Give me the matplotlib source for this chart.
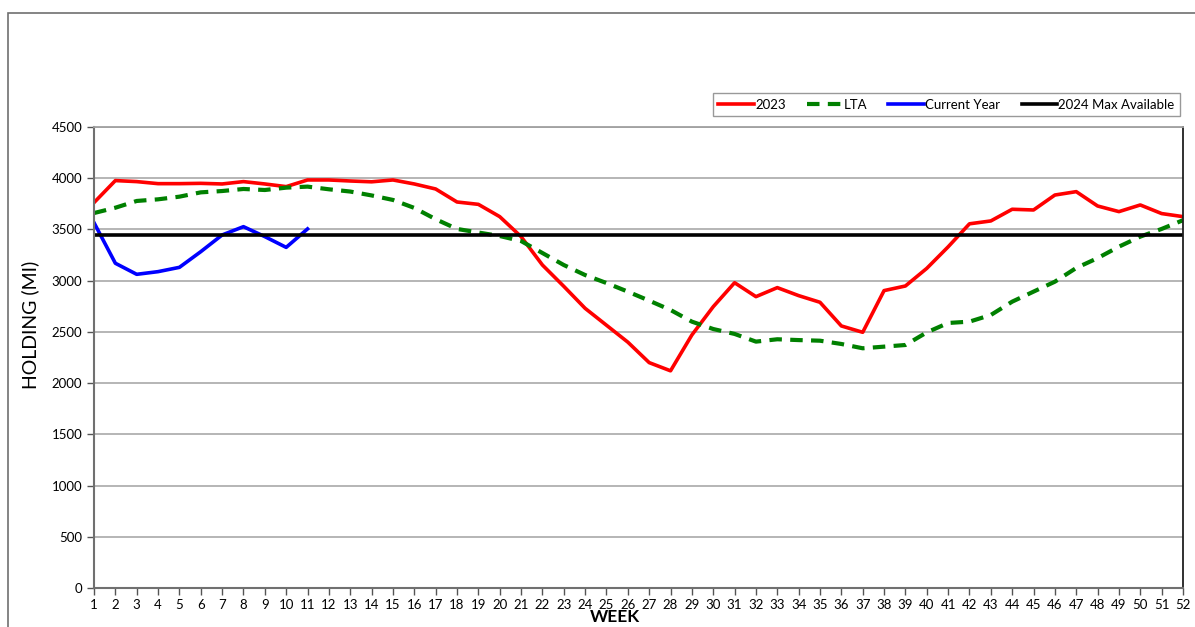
import matplotlib.pyplot as plt
from matplotlib.patches import Rectangle

plt.rcParams['font.family'] = ['Lato', 'DejaVu Sans']

# data
weeks = list(range(1, 53))
y2023 = [3762, 3977, 3967, 3947, 3947, 3950, 3944, 3967, 3944, 3918,
         3983, 3983, 3973, 3965, 3983, 3944, 3895, 3768, 3745, 3625,
         3430, 3153, 2945, 2730, 2565, 2400, 2200, 2120, 2470, 2746,
         2980, 2844, 2932, 2854, 2789, 2558, 2496, 2903, 2948, 3120,
         3330, 3555, 3583, 3697, 3690, 3836, 3869, 3729, 3674, 3739,
         3655, 3625]
lta = [3660, 3712, 3778, 3794, 3820, 3862, 3875, 3895, 3885, 3908,
       3918, 3892, 3870, 3832, 3788, 3710, 3600, 3505, 3470, 3436,
       3387, 3270, 3153, 3055, 2977, 2893, 2805, 2714, 2600, 2528,
       2480, 2405, 2428, 2420, 2414, 2382, 2340, 2356, 2372, 2495,
       2587, 2600, 2665, 2795, 2893, 2990, 3124, 3220, 3332, 3430,
       3505, 3590]
current_weeks = list(range(1, 12))
current = [3566, 3170, 3062, 3088, 3130, 3283, 3446, 3527, 3430, 3325, 3505]
max_available = 3450

fig = plt.figure(figsize=(11.95, 6.27), dpi=100)
ax = fig.add_axes([94/1195, 39/627, (1183-94)/1195, (588-127)/627])

# outer frame (cut off at right/bottom like the source)
fig.patches.append(Rectangle((8/1195, -0.2), 2, (627-13)/627 + 0.2,
                             transform=fig.transFigure, fill=False,
                             edgecolor='#707070', lw=1.2))

ax.set_axisbelow(True)
ax.grid(axis='y', color='#b0b0b0', lw=1.3)

ax.plot(weeks, y2023, color='#ff0000', lw=2.6, label='2023')
ax.plot(weeks, lta, color='#008000', lw=3, ls=(0, (3, 2)), label='LTA')
ax.plot(current_weeks, current, color='#0000ff', lw=2.6, label='Current Year')
ax.axhline(max_available, color='black', lw=2.6, label='2024 Max Available')

ax.set_xlim(1, 52)
ax.set_ylim(0, 4500)
ax.set_xticks(weeks)
ax.set_yticks(range(0, 4501, 500))
ax.tick_params(axis='both', labelsize=9.5, color='#555555', length=5, width=1)
ax.tick_params(axis='x', pad=3)

for s in ['left', 'bottom']:
    ax.spines[s].set_color('#707070')
    ax.spines[s].set_linewidth(1.5)
ax.spines['top'].set_color('#a0a0a0')
ax.spines['top'].set_linewidth(1.3)
ax.spines['right'].set_color('#202020')
ax.spines['right'].set_linewidth(1.3)

ax.set_ylabel('HOLDING (MI)', fontsize=14)
ax.yaxis.set_label_coords(-0.05, 0.57)
ax.set_xlabel('WEEK', fontsize=12.5, fontweight='bold', va='bottom')
ax.xaxis.set_label_coords(0.478, -0.081)

leg = fig.legend(loc='lower right', bbox_to_anchor=(1180/1195, (627-116)/627),
                 borderaxespad=0, ncol=4, fontsize=9.5, frameon=True,
                 fancybox=False, edgecolor='#808080', handlelength=2.7,
                 handletextpad=0.1, columnspacing=1.6, borderpad=0.4)
leg.get_frame().set_linewidth(1.0)

fig.savefig('out.png', dpi=100)
